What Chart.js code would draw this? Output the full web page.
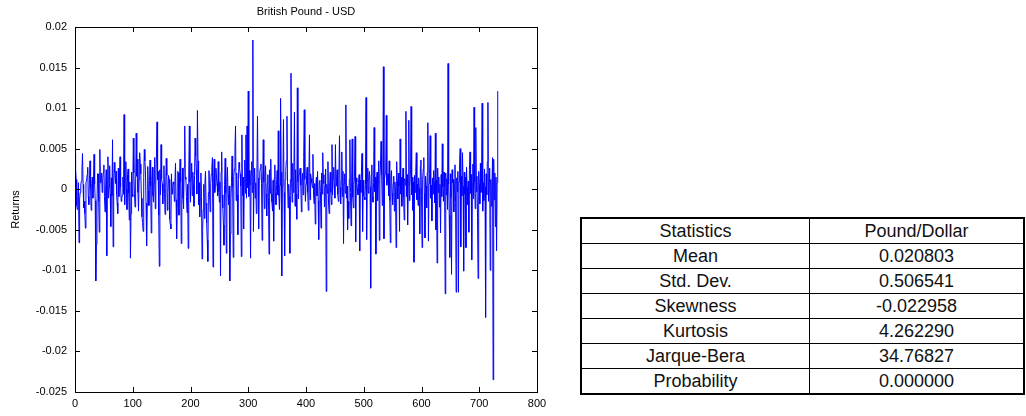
<!DOCTYPE html>
<html>
<head>
<meta charset="utf-8">
<script src="https://cdn.jsdelivr.net/npm/chart.js@4"></script>
<style>
html, body { margin: 0; padding: 0; background: #fff; }
#wrap { position: absolute; left: 0; top: 0; width: 560px; height: 416px; }
#stats {
    position: absolute; left: 580px; top: 217px; width: 445px;
    border-collapse: collapse; border: 2px solid #000;
    font-family: "Liberation Sans", Arial, sans-serif;
    font-size: 18px; color: #111;
}
#stats td { border: 1px solid #000; text-align: center; height: 24px; padding: 0; line-height: 18px; }
#stats td:first-child { width: 227px; }
</style>
</head>
<body>
<div id="wrap"><canvas id="grafico"></canvas></div>
<table id="stats"></table>
<script>
var titleText = "British Pound - USD";
var yLabel = "Returns";
var xTicks = [0, 100, 200, 300, 400, 500, 600, 700, 800];
var yTicks = [0.02, 0.015, 0.01, 0.005, 0, -0.005, -0.01, -0.015, -0.02, -0.025];
var statHeader = ["Statistics", "Pound/Dollar"];
var statNames = ["Mean", "Std. Dev.", "Skewness", "Kurtosis", "Jarque-Bera", "Probability"];
var statValues = ["0.020803", "0.506541", "-0.022958", "4.262290", "34.76827", "0.000000"];

var returns = [
0.0044,0.0026,0.0012,-0.002,-0.0025,-0.0008,0.0008,-0.0066,-0.0012,-0.0004,0.0005,0.001,0.0023,0.0044,0.0006,-0.0023,-0.0015,-0.003,-0.0048,0.0009,
0.001,0.0018,0.0027,-0.0009,-0.0019,0.0012,0.0035,0.0001,-0.0026,0.0007,0.0015,-0.0011,0.0011,0.0043,0.0006,-0.0014,-0.0113,-0.0068,-0.0022,0.0019,
0.0019,-0.0015,-0.0053,0.0049,0.0008,0.0014,0.002,-0.0004,0.0013,0.0021,0.003,-0.0009,-0.0028,-0.0002,0.0024,-0.0082,0.0009,0.004,-0.0011,0.0002,
0.0029,-0.0006,-0.0046,0.0014,-0.0008,0.0061,-0.0071,0.0009,0.0033,0.0021,0.0007,0.0022,-0.0006,-0.0017,-0.003,0.0026,-0.0009,0.0014,0.004,0.0003,
-0.0015,-0.0011,-0.0007,0.0015,-0.0006,0.0092,-0.0019,0.0011,0.0034,0,-0.0025,0.0018,0.0025,-0.0005,-0.0038,0.0009,-0.0085,-0.003,0.0021,-0.0006,
-0.0009,0.0063,0.002,-0.0007,-0.0022,0.0005,0.0069,0.0016,0.0037,-0.0004,-0.0027,0.0012,0.0045,0.0031,0.0019,-0.0011,-0.0034,-0.0041,-0.0052,0.0014,
0.0049,0.0035,0.0023,-0.0017,-0.007,-0.0021,0.0028,-0.0002,-0.002,0.0011,0.0036,0.0004,-0.0054,0.0011,0.0027,-0.0008,-0.0016,0.0008,0.0039,-0.0024,
0.0006,0.0041,0.0083,0.0012,0.0022,-0.0032,-0.0095,0.0024,-0.0007,0.0055,0.0013,0.0007,-0.0018,0.0004,0.0029,-0.0005,-0.0031,0.0002,0.0038,0.0017,
-0.0026,-0.0004,0.0017,0.0012,-0.0037,-0.0043,-0.0049,0.0019,-0.0006,0.0002,0.0009,0.0006,-0.0015,0.0009,0.0032,-0.0013,-0.0061,-0.002,0.0022,0.002,
-0.0032,0.0011,0.0037,0.0009,-0.0067,-0.002,0.0026,-0.0011,-0.0024,0.0027,0.0078,0.0015,0.0012,-0.0009,-0.0029,0.0006,-0.0073,0.002,0.0078,0.0009,
-0.0016,0.0014,0.0032,-0.0008,0.0021,0.0005,-0.0021,0.0017,0.0063,0.0041,0.0024,-0.0006,0.0097,0.0035,-0.0019,0.0008,-0.0034,-0.0008,0.002,-0.0009,
-0.0086,-0.0051,-0.0025,0.0006,-0.0036,0.0009,0.0022,-0.0017,-0.0042,-0.0063,-0.0089,-0.0004,0.0023,-0.0006,-0.0028,0.0007,0.0019,0.0027,0.0039,-0.0096,
0.0008,0.0037,-0.0004,0.0005,0.0026,0.0015,0.0007,-0.0008,0.0034,-0.0003,-0.0016,0.0009,-0.0107,0.0021,0.0046,-0.0007,-0.0023,-0.0044,-0.0069,0.0006,
0.0038,-0.0005,-0.0079,0.001,0.0027,-0.0007,-0.0019,0.0004,-0.0113,-0.0055,-0.0012,0.0008,0.0041,0.0003,-0.0084,0.0016,0.0025,0.0049,0.0078,-0.0014,
0.002,-0.0007,-0.0056,0.0012,0.0033,0.0026,0.0019,0.0004,-0.0083,0.0067,-0.0008,0.0015,-0.0049,0.0006,0.0036,-0.0005,0.0067,-0.0011,0.0078,0.0002,
0.0121,-0.0009,0.0023,0.0005,-0.0085,0.0018,0.0034,-0.0004,0.0184,-0.0052,0.0009,0.0026,-0.0011,0.0008,-0.003,0.0019,0.009,0.0014,-0.0049,0.0012,
0.0022,0.0026,0.0031,0.0007,-0.0063,0.0011,0.0061,0.0009,-0.0024,0.0016,0.0029,-0.0006,-0.0033,0.0007,0.0018,-0.001,-0.008,0.0024,-0.0005,0.0037,
-0.0006,-0.0016,-0.0027,0.0011,-0.0064,0.0014,0.003,-0.0004,-0.0019,0.0006,0.0023,-0.0007,0.0072,-0.0008,-0.0025,0.0005,0.0112,0.0021,-0.0107,0.0004,
0.0015,0.0086,-0.0004,-0.0082,0.0012,0.0023,0.0035,0.009,0.0008,-0.0023,0.0006,-0.0009,-0.0079,0.0012,0.0143,0.0008,-0.0016,0.0032,-0.0004,0.0019,
0.0095,-0.0021,0.0024,-0.0006,-0.0037,0.0125,0.0009,-0.0012,0.0018,0.0022,0.0026,0.0005,-0.0028,0.0011,0.002,-0.0007,0.0039,0.0098,0.0012,-0.0015,
0.0006,0.0017,0.0027,-0.0004,-0.0026,0.0016,0.0067,-0.0013,0.0019,0.0013,0.0008,0.0002,0.0043,-0.0006,-0.0018,0.0007,-0.0043,0.0005,0.0015,-0.0008,
0.0022,-0.0014,-0.0062,0.0009,0.0011,-0.0003,-0.0048,0.002,-0.0006,0.0045,0.0007,0.0018,-0.0022,0.0004,0.0025,-0.0126,0.0006,-0.0005,0.0034,-0.0017,
-0.003,0.0008,0.0021,-0.0004,-0.0019,0.0055,-0.0007,0.0013,0.0027,0.0005,-0.0011,0.0055,0.0004,0.0014,0.0024,-0.0006,-0.0015,0.0017,0.0066,0.0002,
-0.0018,0.001,0.0046,-0.0009,0.0022,-0.0067,0.0007,0.0019,-0.0005,0.0104,-0.0011,0.0004,-0.005,-0.0015,-0.0036,0.0012,0.0061,-0.0004,-0.0045,0.0009,
0.0062,-0.001,-0.0023,0.0006,0.0016,0.0065,-0.0065,0.0014,0.0009,0.0001,-0.0007,0.0007,0.0018,-0.0076,0.0011,-0.0004,0.0022,0.0044,-0.0052,0.0011,
-0.0008,-0.001,-0.0013,0.0006,0.0113,-0.0062,0.001,0.0026,-0.0005,0.0014,0.0022,0.0003,-0.0122,0.0017,0.003,-0.0009,-0.0016,0.0008,0.0076,-0.0003,
0.0015,-0.008,0.0006,0.0021,-0.0014,0.0009,0.0035,-0.0063,0.0012,0.0031,0.0059,0.0018,-0.002,0.0004,0.0151,-0.0061,0.0013,0.0019,0.0024,0.0091,
0.0005,0.0012,0.0019,-0.0008,0.0035,-0.0014,-0.0066,0.0014,0.0023,-0.0005,-0.0019,0.0007,0.0016,-0.0027,0.0009,-0.0003,-0.0072,0.0034,0.001,-0.0012,
0.002,0.0004,-0.0052,0.0062,-0.0006,0.0015,-0.0021,0.0008,0.0026,-0.001,-0.0038,0.0013,0.0005,0.0096,-0.0009,0.0018,-0.0044,0.0006,0.0085,-0.0014,
0.0003,0.0024,0.0102,-0.0007,0.0015,-0.0026,0.0009,-0.009,0.0017,-0.0004,0.0022,0.0045,-0.0013,0.0006,-0.002,0.0014,0.0001,-0.0055,0.0028,0.0036,
-0.0008,-0.0072,0.0012,0.0025,0.0039,-0.0005,-0.006,0.0016,0.0004,-0.0023,0.002,0.0082,-0.0064,0.0007,0.0019,0.0066,-0.0011,0.0005,-0.0039,0.0014,
-0.0006,0.0023,0.0008,-0.0017,0.0069,-0.005,0.0011,-0.0091,0.0026,-0.0004,0.0015,-0.0022,0.0006,-0.0054,0.0018,-0.0009,0.0056,0.0003,-0.0015,0.0021,
0.0004,-0.0129,0.002,-0.0007,0.0013,-0.0025,0.0155,0.0006,-0.0032,-0.0084,0.0019,-0.001,-0.0105,0.0024,0.0008,0.0012,-0.0028,0.0005,0.003,-0.0016,
-0.0127,0.0014,-0.0003,0.0022,-0.0127,0.0009,0.0033,0.005,-0.0071,0.0016,-0.0008,0.0045,0.0004,-0.0101,0.0021,-0.0006,0.0015,-0.0072,0.0027,0.0002,
-0.0019,0.001,-0.0053,0.0024,0.0046,-0.0005,0.0018,-0.0087,0.0007,0.0031,-0.0012,0.0101,0.0009,-0.0024,0.0076,-0.0003,0.0016,-0.0035,-0.011,0.0022,
0.0006,-0.0018,0.0032,-0.0004,0.0013,0.0106,-0.0027,0.0008,-0.0014,0.0025,0.0003,-0.0158,0.0019,-0.0007,0.0034,0.0107,-0.0015,0.0009,0.0026,-0.01,
0.0012,-0.0021,0.0004,0.0039,-0.0235,0.0037,-0.0013,0.002,-0.0046,0.0015,-0.0076,0.0008,0.0121
];

// tabla de estadisticas
var table = document.getElementById("stats");
var rows = [statHeader];
for (var i = 0; i < statNames.length; i++) rows.push([statNames[i], statValues[i]]);
rows.forEach(function (r) {
    var tr = document.createElement("tr");
    r.forEach(function (c) {
        var td = document.createElement("td");
        td.textContent = c;
        tr.appendChild(td);
    });
    table.appendChild(tr);
});

// marco y marcas de eje hacia adentro, estilo matlab
var frame = {
    id: "frame",
    afterDraw: function (chart) {
        var ctx = chart.ctx, a = chart.chartArea;
        var x = chart.scales.x, y = chart.scales.y;
        ctx.save();
        ctx.strokeStyle = "#000";
        ctx.lineWidth = 1;
        ctx.strokeRect(Math.round(a.left) + 0.5, Math.round(a.top) + 0.5,
            Math.round(a.right - a.left), Math.round(a.bottom - a.top));
        ctx.beginPath();
        xTicks.forEach(function (v) {
            var px = Math.round(x.getPixelForValue(v)) + 0.5;
            ctx.moveTo(px, a.bottom); ctx.lineTo(px, a.bottom - 5);
            ctx.moveTo(px, a.top); ctx.lineTo(px, a.top + 5);
        });
        yTicks.forEach(function (v) {
            var py = Math.round(y.getPixelForValue(v)) + 0.5;
            ctx.moveTo(a.left, py); ctx.lineTo(a.left + 5, py);
            ctx.moveTo(a.right, py); ctx.lineTo(a.right - 5, py);
        });
        ctx.stroke();
        ctx.fillStyle = "#000";
        ctx.font = '11px "Liberation Sans", Arial, sans-serif';
        ctx.textAlign = "center";
        ctx.textBaseline = "middle";
        ctx.fillText(titleText, (a.left + a.right) / 2, 12);
        ctx.restore();
    }
};

var tickFont = { family: '"Liberation Sans", Arial, sans-serif', size: 11 };

var ctx = document.getElementById("grafico").getContext("2d");
new Chart(ctx, {
    type: "line",
    data: {
        datasets: [{
            data: returns.map(function (v, i) { return { x: i, y: v }; }),
            borderColor: "#0000ff",
            borderWidth: 1,
            pointRadius: 0,
            tension: 0,
            fill: false
        }]
    },
    options: {
        responsive: true,
        maintainAspectRatio: false,
        animation: false,
        layout: { padding: { top: 27, right: 23, bottom: 0, left: 0 } },
        plugins: { legend: { display: false }, tooltip: { enabled: false }, title: { display: false } },
        scales: {
            x: {
                type: "linear", min: 0, max: 800,
                grid: { display: false, drawTicks: false },
                border: { display: false },
                afterBuildTicks: function (s) { s.ticks = xTicks.map(function (v) { return { value: v }; }); },
                afterFit: function (s) { s.height = 24; },
                ticks: { color: "#000", font: tickFont, padding: 5, maxRotation: 0, autoSkip: false,
                    callback: function (v) { return String(v); } }
            },
            y: {
                type: "linear", min: -0.025, max: 0.02,
                grid: { display: false, drawTicks: false },
                border: { display: false },
                afterBuildTicks: function (s) { s.ticks = yTicks.map(function (v) { return { value: v }; }); },
                afterFit: function (s) { s.width = 75; },
                ticks: { color: "#000", font: tickFont, padding: 8, autoSkip: false,
                    callback: function (v) { return String(v); } },
                title: { display: true, text: yLabel, color: "#000", font: tickFont, padding: { top: 9, bottom: 0 } }
            }
        }
    },
    plugins: [frame]
});
</script>
</body>
</html>
